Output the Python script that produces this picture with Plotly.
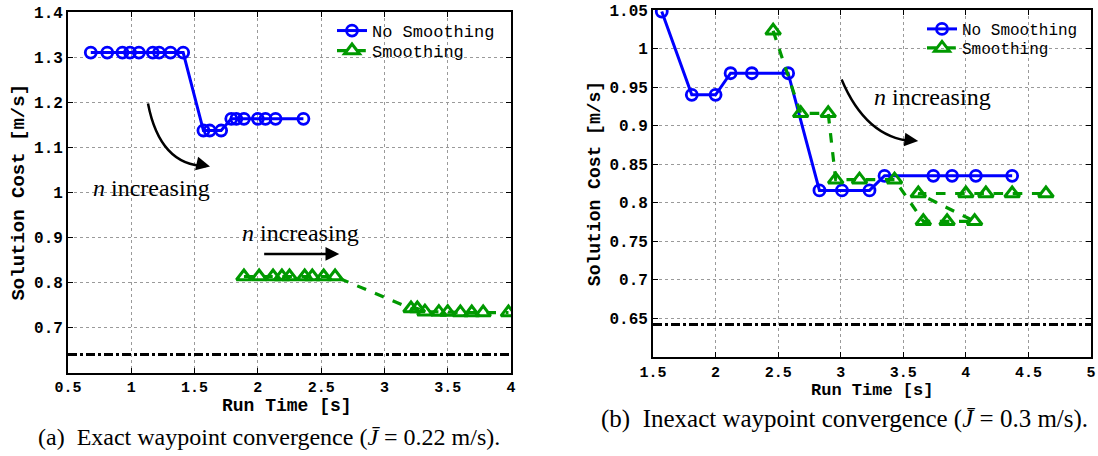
import plotly.graph_objects as go

# ---------------- data: (a) exact waypoint convergence ----------------
a_nosmooth_x = [0.68, 0.81, 0.93, 0.99, 1.06, 1.17, 1.22, 1.31, 1.41,
                1.57, 1.62, 1.71,
                1.79, 1.83, 1.89, 2.00, 2.06, 2.14, 2.36]
a_nosmooth_y = [1.31, 1.31, 1.31, 1.31, 1.31, 1.31, 1.31, 1.31, 1.31,
                1.137, 1.137, 1.137,
                1.163, 1.163, 1.163, 1.163, 1.163, 1.163, 1.163]
a_smooth_x = [1.89, 2.01, 2.12, 2.19, 2.25, 2.37, 2.43, 2.52, 2.61,
              3.21, 3.26, 3.32, 3.43, 3.50, 3.60, 3.69, 3.78, 3.98]
a_smooth_y = [0.813, 0.813, 0.813, 0.813, 0.813, 0.813, 0.813, 0.813, 0.813,
              0.742, 0.742, 0.735, 0.734, 0.734, 0.733, 0.733, 0.733, 0.733]
a_bound_x = [0.5, 4.0]
a_bound_y = [0.64, 0.64]

# ---------------- data: (b) inexact waypoint convergence ----------------
b_nosmooth_x = [1.57, 1.81, 2.00, 2.12, 2.29, 2.58, 2.83, 3.01, 3.23,
                3.35, 3.74, 3.89, 4.08, 4.37]
b_nosmooth_y = [1.048, 0.940, 0.940, 0.968, 0.968, 0.968, 0.816, 0.816, 0.816,
                0.835, 0.835, 0.835, 0.835, 0.835]
b_smooth_x = [2.46, 2.68, 2.90, 2.96, 3.15, 3.43, 3.66, 3.85, 4.07,
              3.62, 4.00, 4.16, 4.37, 4.64]
b_smooth_y = [1.023, 0.916, 0.916, 0.830, 0.830, 0.830, 0.776, 0.776, 0.776,
              0.812, 0.812, 0.812, 0.812, 0.812]
b_bound_x = [1.5, 5.0]
b_bound_y = [0.642, 0.642]

# ticks
a_xticks = [0.5, 1, 1.5, 2, 2.5, 3, 3.5, 4]
a_xtick_text = ["0.5", "1", "1.5", "2", "2.5", "3", "3.5", "4"]
a_yticks = [0.7, 0.8, 0.9, 1.0, 1.1, 1.2, 1.3, 1.4]
a_ytick_text = ["0.7", "0.8", "0.9", "1", "1.1", "1.2", "1.3", "1.4"]
b_xticks = [1.5, 2, 2.5, 3, 3.5, 4, 4.5, 5]
b_xtick_text = ["1.5", "2", "2.5", "3", "3.5", "4", "4.5", "5"]
b_yticks = [0.65, 0.7, 0.75, 0.8, 0.85, 0.9, 0.95, 1.0, 1.05]
b_ytick_text = ["0.65", "0.7", "0.75", "0.8", "0.85", "0.9", "0.95", "1", "1.05"]

BLUE = "#0000ff"
GREEN = "#009900"
MONO = "Liberation Mono"
SERIF = "Liberation Serif"

fig = go.Figure()

def add_panel(xa, ya, nsx, nsy, sx, sy, bx, by, leg1, leg2):
    fig.add_trace(go.Scatter(
        x=nsx, y=nsy, xaxis=xa, yaxis=ya, mode="lines+markers",
        name="No Smoothing", legend=leg1, showlegend=True,
        line=dict(color=BLUE, width=3),
        marker=dict(symbol="circle-open", size=11, color=BLUE, line=dict(width=2.8, color=BLUE))))
    fig.add_trace(go.Scatter(
        x=sx, y=sy, xaxis=xa, yaxis=ya, mode="lines+markers",
        name="Smoothing", legend=leg2, showlegend=True,
        line=dict(color=GREEN, width=3.2, dash="dash"),
        marker=dict(symbol="triangle-up-open", size=13, color=GREEN, line=dict(width=3, color=GREEN))))
    fig.add_trace(go.Scatter(
        x=bx, y=by, xaxis=xa, yaxis=ya, mode="lines", showlegend=False,
        line=dict(color="black", width=3, dash="dashdot")))

add_panel("x", "y", a_nosmooth_x, a_nosmooth_y, a_smooth_x, a_smooth_y,
          a_bound_x, a_bound_y, "legend", "legend3")
add_panel("x2", "y2", b_nosmooth_x, b_nosmooth_y, b_smooth_x, b_smooth_y,
          b_bound_x, b_bound_y, "legend2", "legend4")

W, H = 1098, 456

def axis_common(tickvals, ticktext, rng, domain, anchor, tsize, title, titlesize, standoff):
    return dict(
        range=rng, domain=domain, anchor=anchor, automargin=False,
        tickvals=tickvals, ticktext=ticktext,
        tickfont=dict(family=MONO, size=tsize, color="black", weight="bold"),
        ticks="inside", ticklen=5, tickwidth=1.2, tickcolor="black",
        showline=True, linecolor="black", linewidth=1.8, mirror="ticks",
        showgrid=True, gridcolor="#9a9a9a", gridwidth=1, griddash="dot",
        zeroline=False,
        title=dict(text=title, font=dict(family=MONO, size=titlesize, color="black", weight="bold"),
                   standoff=standoff),
    )

def leg(xpx, ypx, size):
    return dict(x=xpx / W, y=1 - ypx / H, xanchor="left", yanchor="middle",
                bgcolor="rgba(0,0,0,0)", borderwidth=0,
                font=dict(family=MONO, size=size, color="black"),
                tracegroupgap=0, itemwidth=30)

fig.update_layout(
    width=W, height=H, margin=dict(l=0, r=0, t=0, b=0),
    paper_bgcolor="white", plot_bgcolor="white",
    xaxis=axis_common(a_xticks, a_xtick_text, [0.5, 4.0], [68 / W, 511 / W], "y", 15, "", 19, 0),
    yaxis=axis_common(a_yticks, a_ytick_text, [0.6, 1.4], [1 - 372.5 / H, 1 - 12 / H], "x", 16,
                      "Solution Cost [m/s]", 19, 4),
    xaxis2=axis_common(b_xticks, b_xtick_text, [1.5, 5.0], [653 / W, 1091 / W], "y2", 15, "", 18, 0),
    yaxis2=axis_common(b_yticks, b_ytick_text, [0.6, 1.05], [1 - 357 / H, 1 - 10 / H], "x2", 16,
                       "Solution Cost [m/s]", 18, 4),
    legend=leg(332, 31, 17),
    legend3=leg(332, 51, 17),
    legend2=leg(922, 29, 16),
    legend4=leg(922, 48, 16),
    showlegend=True,
)

# curved arrows (quadratic Bezier paths in data coordinates)
fig.add_shape(type="path", xref="x", yref="y",
              path="M 1.132,1.197 Q 1.227,1.059 1.590,1.058",
              line=dict(color="black", width=2.5))
fig.add_shape(type="path", xref="x2", yref="y2",
              path="M 3.007,0.960 Q 3.201,0.885 3.569,0.880",
              line=dict(color="black", width=2.5))

arrow_font = dict(family=SERIF, size=24, color="black")
title_font_a = dict(family=MONO, size=18, color="black", weight="bold")
title_font_b = dict(family=MONO, size=17, color="black", weight="bold")
anns = [
    # arrowheads of curved arrows
    dict(x=1.622, y=1.057, ax=1.527, ay=1.063, xref="x", yref="y", axref="x", ayref="y",
         showarrow=True, arrowhead=2, arrowsize=1.1, arrowwidth=2.5, arrowcolor="black", text=""),
    dict(x=3.619, y=0.880, ax=3.513, ay=0.882, xref="x2", yref="y2", axref="x2", ayref="y2",
         showarrow=True, arrowhead=2, arrowsize=1.1, arrowwidth=2.5, arrowcolor="black", text=""),
    # straight arrow
    dict(x=2.643, y=0.863, ax=2.038, ay=0.863, xref="x", yref="y", axref="x", ayref="y",
         showarrow=True, arrowhead=2, arrowsize=1.1, arrowwidth=2.5, arrowcolor="black", text=""),
    # texts
    dict(x=1.163, y=1.01, xref="x", yref="y", text="<i>n</i> increasing", showarrow=False,
         font=arrow_font, xanchor="center", yanchor="middle"),
    dict(x=2.340, y=0.91, xref="x", yref="y", text="<i>n</i> increasing", showarrow=False,
         font=arrow_font, xanchor="center", yanchor="middle"),
    dict(x=3.736, y=0.937, xref="x2", yref="y2", text="<i>n</i> increasing", showarrow=False,
         font=arrow_font, xanchor="center", yanchor="middle"),
    # x-axis titles
    dict(x=287 / W, y=1 - 394 / H, xref="paper", yref="paper", showarrow=False,
         text="Run Time [s]", font=title_font_a, xanchor="center", yanchor="top"),
    dict(x=872 / W, y=1 - 379 / H, xref="paper", yref="paper", showarrow=False,
         text="Run Time [s]", font=title_font_b, xanchor="center", yanchor="top"),
    # captions
    dict(x=269 / W, y=1 - 437 / H, xref="paper", yref="paper", showarrow=False,
         text="(a)  Exact waypoint convergence (<i>J̄</i> = 0.22 m/s).",
         font=dict(family=SERIF, size=24, color="black"), xanchor="center", yanchor="middle"),
    dict(x=844 / W, y=1 - 419 / H, xref="paper", yref="paper", showarrow=False,
         text="(b)  Inexact waypoint convergence (<i>J̄</i> = 0.3 m/s).",
         font=dict(family=SERIF, size=25, color="black"), xanchor="center", yanchor="middle"),
]
fig.update_layout(annotations=anns)

fig.write_html("out.html")
